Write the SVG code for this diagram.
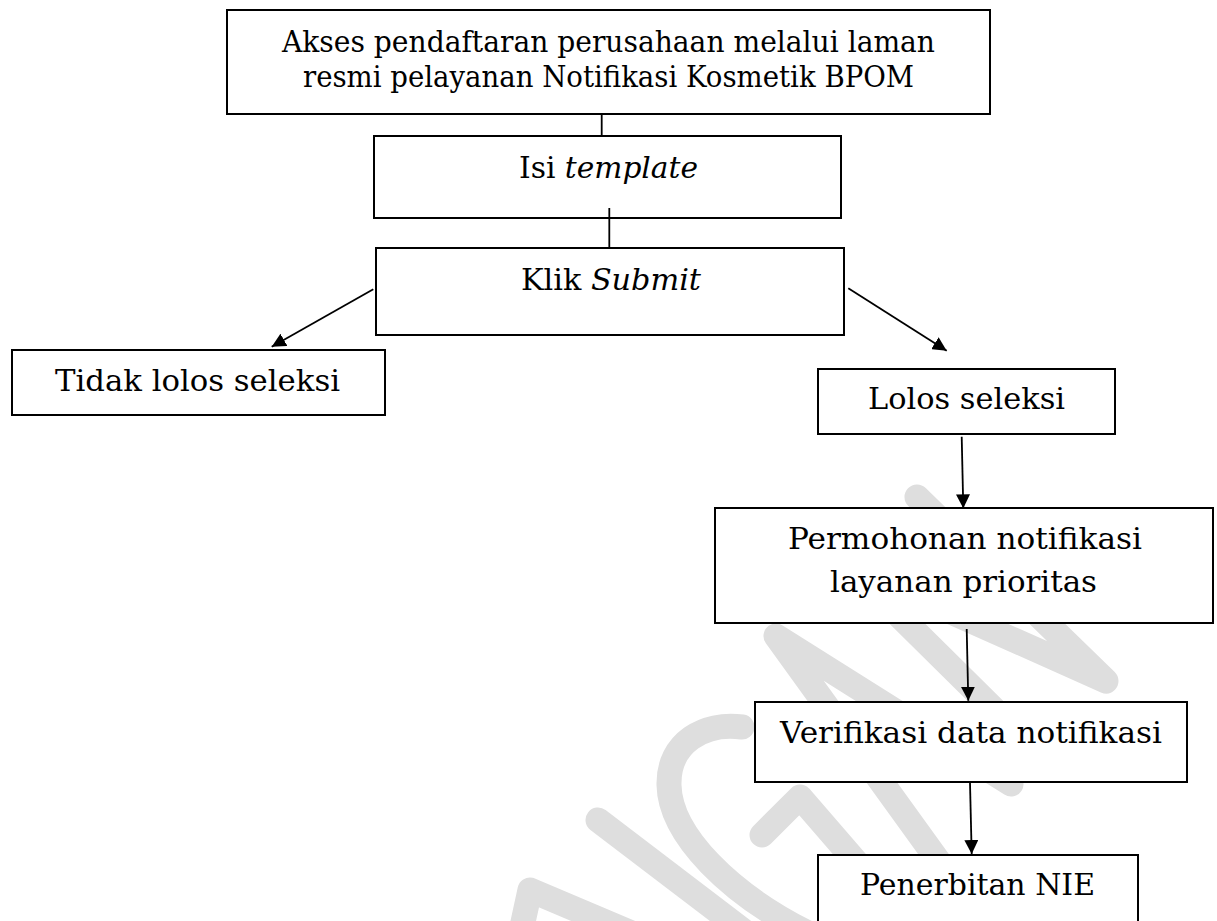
<svg xmlns="http://www.w3.org/2000/svg" width="1217" height="921" viewBox="0 0 1217 921">
<style>
.node rect{fill:#ffffff;stroke:#000000;stroke-width:2}
.node text{font-family:"DejaVu Serif","Liberation Serif",serif;font-size:30px;fill:#000000}
.it{font-style:italic}
.wm{fill:none;stroke:#dedede;stroke-width:25;stroke-linecap:round;stroke-linejoin:round}
.conn line{stroke:#000000;stroke-width:1.8}
</style>
<defs>
<marker id="arr" markerUnits="userSpaceOnUse" markerWidth="14" markerHeight="14" refX="14" refY="7" orient="auto">
<path d="M0,0 L14,7 L0,14 Z" fill="#000000"/>
</marker>
</defs>
<rect x="0" y="0" width="1217" height="921" fill="#ffffff"/>
<g id="watermark">
<path class="wm" d="M518,945 L530,890 L700,962"/>
<path class="wm" d="M598,820 L745,932"/>
<path class="wm" d="M742,727 C705,722 668,742 669,785 C670,835 730,895 812,935"/>
<path class="wm" d="M762,835 L800,797 L915,930"/>
<path class="wm" d="M945,870 L776,636 L1011,784"/>
<path class="wm" d="M917,497 L1106,681 L850,567 L1030,745"/>
</g>
<g id="n1" class="node"><rect x="227" y="10" width="763" height="104"/>
<text x="282" y="52" textLength="653" lengthAdjust="spacingAndGlyphs">Akses pendaftaran perusahaan melalui laman</text>
<text x="303" y="87" textLength="611" lengthAdjust="spacingAndGlyphs">resmi pelayanan Notifikasi Kosmetik BPOM</text></g>
<g id="n2" class="node"><rect x="374" y="136" width="467" height="82"/>
<text x="519" y="178" textLength="179" lengthAdjust="spacingAndGlyphs">Isi <tspan class="it">template</tspan></text></g>
<g id="n3" class="node"><rect x="376" y="248" width="468" height="87"/>
<text x="521" y="290" textLength="180" lengthAdjust="spacingAndGlyphs">Klik <tspan class="it">Submit</tspan></text></g>
<g id="n4" class="node"><rect x="12" y="350" width="373" height="65"/>
<text x="55" y="390.5" textLength="285" lengthAdjust="spacingAndGlyphs">Tidak lolos seleksi</text></g>
<g id="n5" class="node"><rect x="818" y="369" width="297" height="65"/>
<text x="868" y="409" textLength="197" lengthAdjust="spacingAndGlyphs">Lolos seleksi</text></g>
<g id="n6" class="node"><rect x="715" y="508" width="498" height="115"/>
<text x="788" y="549" textLength="354" lengthAdjust="spacingAndGlyphs">Permohonan notifikasi</text>
<text x="830" y="592" textLength="267" lengthAdjust="spacingAndGlyphs">layanan prioritas</text></g>
<g id="n7" class="node"><rect x="755" y="702" width="432" height="80"/>
<text x="780" y="743" textLength="382" lengthAdjust="spacingAndGlyphs">Verifikasi data notifikasi</text></g>
<g id="n8" class="node"><rect x="818" y="855" width="320" height="75"/>
<text x="860" y="895" textLength="235" lengthAdjust="spacingAndGlyphs">Penerbitan NIE</text></g>
<g id="connectors" class="conn">
<line x1="601.7" y1="114" x2="601.7" y2="136"/>
<line x1="609.3" y1="208" x2="609.3" y2="248"/>
<line x1="373.3" y1="289.3" x2="271.7" y2="346.7" marker-end="url(#arr)"/>
<line x1="848.3" y1="288.3" x2="946.7" y2="350.7" marker-end="url(#arr)"/>
<line x1="961.7" y1="436.7" x2="963.3" y2="508.3" marker-end="url(#arr)"/>
<line x1="966.7" y1="629" x2="968.3" y2="700.7" marker-end="url(#arr)"/>
<line x1="970" y1="783" x2="971.7" y2="854" marker-end="url(#arr)"/>
</g>
</svg>
